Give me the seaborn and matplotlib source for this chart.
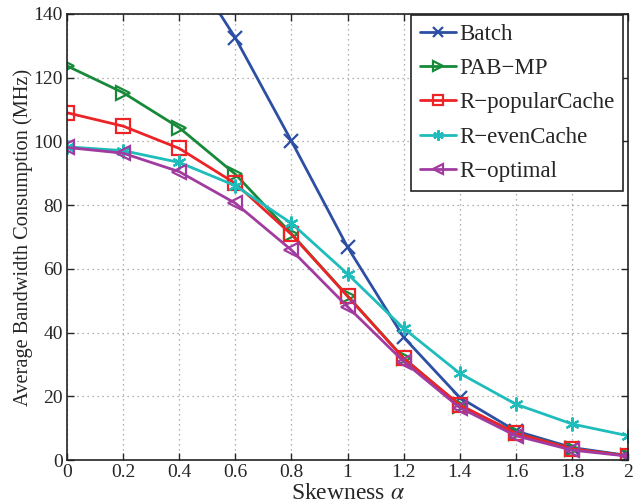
import matplotlib
matplotlib.use("Agg")
import matplotlib.pyplot as plt
import seaborn as sns
import pandas as pd

skew = [0, 0.2, 0.4, 0.6, 0.8, 1.0, 1.2, 1.4, 1.6, 1.8, 2.0]
batch = [220, 190, 160, 132.5, 100.1, 66.8, 38.5, 19.6, 9.1, 3.9, 1.4]
pab_mp = [123.7, 115.3, 104.3, 89.7, 71.0, 51.5, 32.0, 17.0, 8.5, 3.5, 1.3]
r_popular = [109.0, 104.8, 97.8, 86.8, 70.8, 51.4, 31.9, 17.3, 8.4, 3.5, 1.3]
r_even = [98.3, 97.1, 93.4, 86.1, 74.3, 58.4, 41.3, 27.2, 17.5, 11.3, 7.6]
r_optimal = [98.1, 96.3, 90.5, 80.6, 65.9, 48.1, 30.9, 16.4, 7.6, 3.1, 1.2]

series_names = ["Batch", "PAB\u2212MP", "R\u2212popularCache", "R\u2212evenCache", "R\u2212optimal"]
series_vals = [batch, pab_mp, r_popular, r_even, r_optimal]
colors = ["#2c4fa3", "#178a3a", "#ec2327", "#1fbcbc", "#a13ba0"]
markers = ["x", ">", "s", (6, 2, 0), "<"]

sns.set_style("ticks")
plt.rcParams["font.family"] = ["Liberation Serif", "DejaVu Serif"]
plt.rcParams["mathtext.fontset"] = "stix"

fig = plt.figure(figsize=(6.41, 5.04), dpi=100)
ax = fig.add_axes([0.1045, 0.0873, 0.8755, 0.8850])

for name, vals, c, m in zip(series_names, series_vals, colors, markers):
    df = pd.DataFrame({"x": skew, "y": vals})
    sns.lineplot(data=df, x="x", y="y", ax=ax, color=c, marker=m, markersize=10,
                 markerfacecolor="none", markeredgecolor=c, markeredgewidth=1.6,
                 linewidth=2.0, label=name)

ax.set_xlim(0, 2)
ax.set_ylim(0, 140)
ax.set_xticks([0, 0.2, 0.4, 0.6, 0.8, 1, 1.2, 1.4, 1.6, 1.8, 2])
ax.set_xticklabels(["0", "0.2", "0.4", "0.6", "0.8", "1", "1.2", "1.4", "1.6", "1.8", "2"])
ax.set_yticks(range(0, 141, 20))
ax.tick_params(direction="in", top=True, right=True, labelsize=14, length=5, width=1, pad=3)
ax.grid(True, linestyle=(0, (1, 3)), color="#999999", linewidth=0.9)
for s in ax.spines.values():
    s.set_visible(True)
    s.set_linewidth(1.2)
    s.set_color("#222222")

ax.set_xlabel(r"Skewness $\alpha$", fontsize=17, labelpad=1.5)
ax.set_ylabel("Average Bandwidth Consumption (MHz)", fontsize=14.7, labelpad=0.5)

leg = ax.legend(loc="upper right", bbox_to_anchor=(623 / 641, 1 - 15 / 504),
                bbox_transform=fig.transFigure, fontsize=16.5, frameon=True, fancybox=False,
                edgecolor="#222222", framealpha=1, handlelength=1.57, handletextpad=0.15,
                borderaxespad=0.0, labelspacing=0.58, borderpad=0.38, markerscale=0.75)
leg.get_frame().set_linewidth(1.2)

fig.savefig("out.png", dpi=100)
